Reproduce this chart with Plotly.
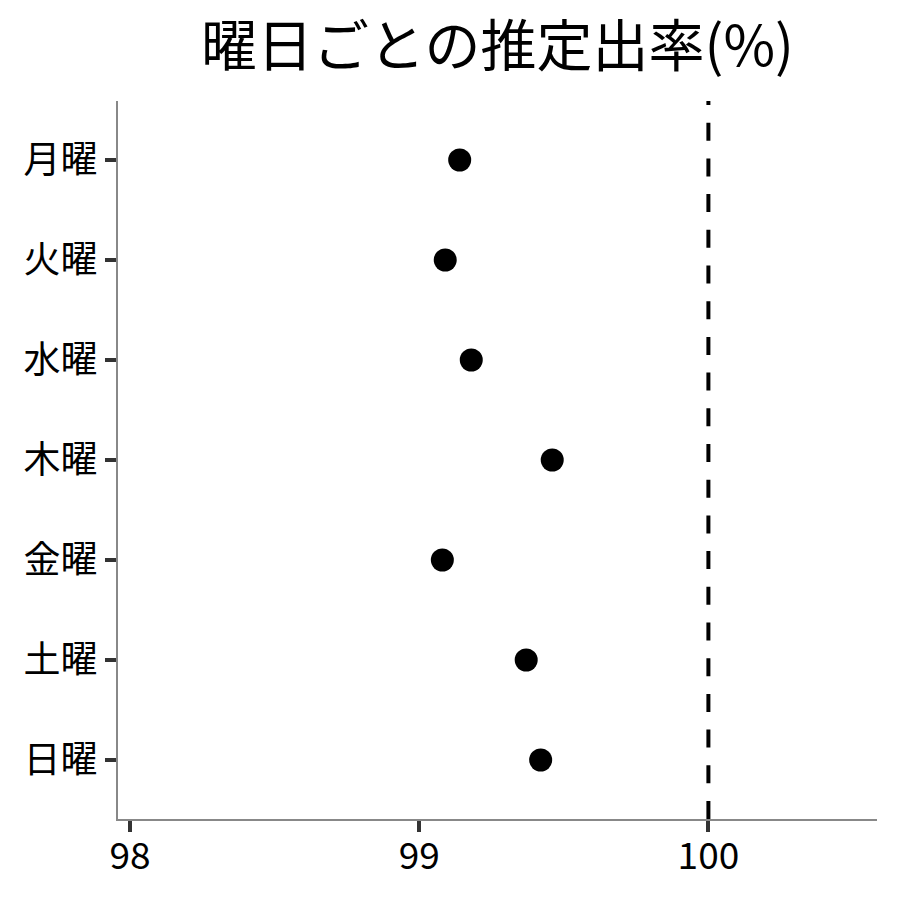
import plotly.graph_objects as go

# 曜日ごとの推定出率
days = ["月曜", "火曜", "水曜", "木曜", "金曜", "土曜", "日曜"]
rates = [99.14, 99.09, 99.18, 99.46, 99.08, 99.37, 99.42]
x_ticks = [98, 99, 100]
ref_rate = 100

font_family = "Noto Sans CJK JP"

fig = go.Figure()

fig.add_trace(go.Scatter(
    x=rates,
    y=days,
    mode="markers",
    marker=dict(color="black", size=23, line=dict(width=0)),
    showlegend=False
))

# 100% reference line
fig.add_vline(x=ref_rate, line=dict(color="black", width=4, dash="18px,17.7px"))

# the page body has an 8px margin, so the figure is a bit smaller than the window
fig.update_layout(
    width=892, height=892,
    margin=dict(l=110, r=23, t=93, b=81),
    plot_bgcolor="white",
    paper_bgcolor="white",
    font=dict(family=font_family, color="black"),
    title=dict(
        text="曜日ごとの推定出率(%)",
        font=dict(size=56, family=font_family, color="black"),
        xref="paper", x=0.5, xanchor="center",
        y=0.9575, yanchor="middle"
    )
)

fig.update_xaxes(
    range=[97.9585, 100.583],
    tickvals=x_ticks,
    ticktext=[str(v) for v in x_ticks],
    ticks="outside", ticklen=11, tickwidth=3.5, tickcolor="#333333",
    ticklabelstandoff=-7,
    tickfont=dict(size=37, family=font_family, color="black"),
    showline=True, linecolor="#888888", linewidth=2,
    showgrid=False, zeroline=False
)

fig.update_yaxes(
    type="category",
    categoryorder="array", categoryarray=days,
    range=[6.59, -0.59],
    ticks="outside", ticklen=11, tickwidth=3.5, tickcolor="#333333",
    tickfont=dict(size=37, family=font_family, color="black"),
    showline=True, linecolor="#888888", linewidth=2,
    showgrid=False, zeroline=False
)

fig.write_html("out.html")
